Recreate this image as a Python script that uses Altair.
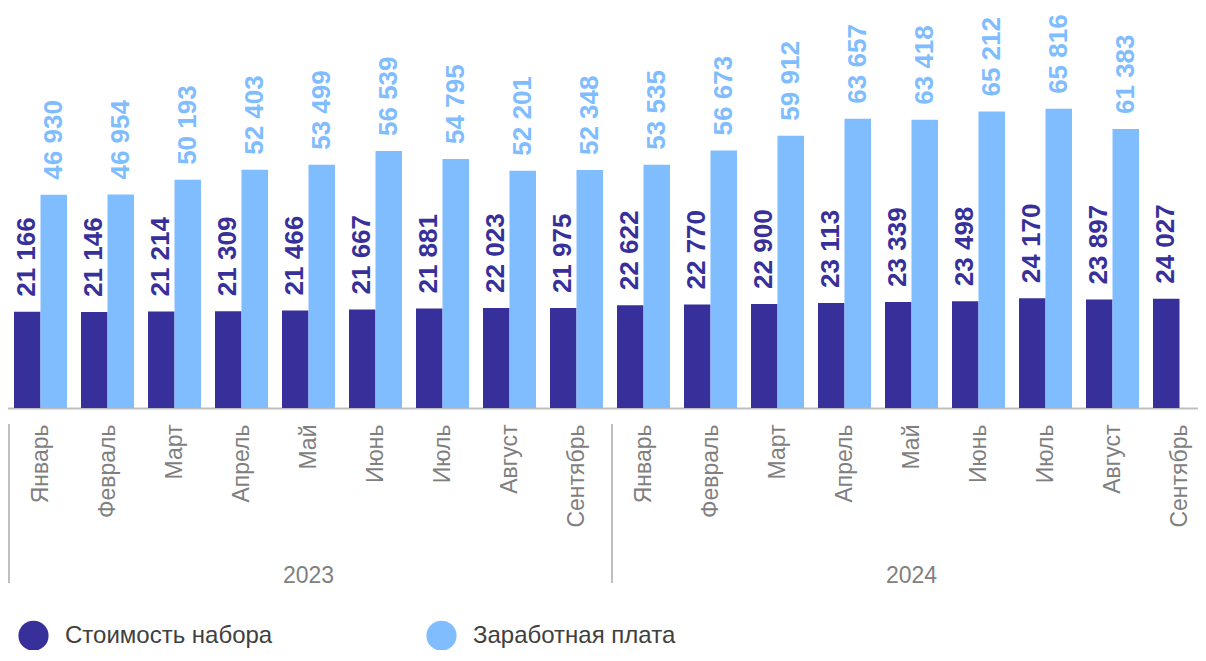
import altair as alt
import pandas as pd

months = ["Январь", "Февраль", "Март", "Апрель", "Май", "Июнь", "Июль", "Август", "Сентябрь"]
years = ["2023", "2024"]

cost_2023 = [21166, 21146, 21214, 21309, 21466, 21667, 21881, 22023, 21975]
cost_2024 = [22622, 22770, 22900, 23113, 23339, 23498, 24170, 23897, 24027]
salary_2023 = [46930, 46954, 50193, 52403, 53499, 56539, 54795, 52201, 52348]
salary_2024 = [53535, 56673, 59912, 63657, 63418, 65212, 65816, 61383, None]

series_names = ["Стоимость набора", "Заработная плата"]
colors = ["#38309a", "#80bdff"]

FONT = "Liberation Sans"
GREY = "#7f7f7f"

cats = [f"{m} {y}" for y in years for m in months]
cost = cost_2023 + cost_2024
salary = salary_2023 + salary_2024

rows = []
for c, v in zip(cats, cost):
    rows.append({"cat": c, "series": series_names[0], "value": v})
for c, v in zip(cats, salary):
    if v is not None:
        rows.append({"cat": c, "series": series_names[1], "value": v})
df = pd.DataFrame(rows)
df["label"] = df["value"].map(lambda v: f"{int(v):,}".replace(",", " "))

df_years = pd.DataFrame({"cat": [f"Май {y}" for y in years], "year": years})
df_sep = pd.DataFrame({"cat": [f"Январь {y}" for y in years]})

xscale = alt.Scale(domain=cats, range=[-1, 1205], paddingInner=0.209, paddingOuter=0.1045)
yscale = alt.Scale(domain=[0, 88000])
offscale = alt.Scale(domain=series_names)

xaxis = alt.Axis(
    title=None,
    labelAngle=270,
    labelAlign="right",
    labelBaseline="middle",
    labelExpr="split(datum.label, ' ')[0]",
    labelFontSize=23,
    labelFont=FONT,
    labelColor=GREY,
    labelPadding=16,
    ticks=False,
    tickSize=0,
    domainColor="#bfbfbf",
    domainWidth=2,
    grid=False,
    labelLimit=300,
)


def xenc(**kw):
    return alt.X("cat:N", sort=cats, scale=xscale, axis=xaxis, **kw)


bars = alt.Chart(df).mark_bar().encode(
    x=xenc(),
    xOffset=alt.XOffset("series:N", scale=offscale, sort=series_names),
    y=alt.Y("value:Q", scale=yscale, axis=None),
    color=alt.Color(
        "series:N",
        scale=alt.Scale(domain=series_names, range=colors),
        sort=series_names,
        legend=alt.Legend(
            orient="none",
            legendX=10,
            legendY=612,
            direction="horizontal",
            title=None,
            symbolType="circle",
            symbolSize=908,
            symbolStrokeWidth=0,
            labelFontSize=24,
            labelFont=FONT,
            labelColor="#404040",
            labelOffset=16,
            columnPadding=153,
            labelLimit=400,
            padding=0,
        ),
    ),
)


def value_labels(series, color):
    return (
        alt.Chart(df[df["series"] == series])
        .mark_text(
            angle=270,
            align="left",
            baseline="middle",
            dx=15,
            font=FONT,
            fontSize=26,
            fontWeight="bold",
            color=color,
        )
        .encode(
            x=xenc(),
            xOffset=alt.XOffset("series:N", scale=offscale, sort=series_names),
            y=alt.Y("value:Q", scale=yscale, axis=None),
            text="label:N",
        )
    )


year_text = alt.Chart(df_years).mark_text(
    font=FONT, fontSize=23, color=GREY, align="center", baseline="alphabetic"
).encode(x=xenc(), y=alt.value(575), text="year:N")

seps = alt.Chart(df_sep).mark_rule(color="#bfbfbf", strokeWidth=2, xOffset=-5).encode(
    x=xenc(bandPosition=0), y=alt.value(416), y2=alt.value(575)
)

chart = (
    alt.layer(bars, value_labels(series_names[0], colors[0]), value_labels(series_names[1], colors[1]), year_text, seps)
    .properties(
        width=1190,
        height=400,
        padding={"left": 0, "top": 0, "right": 0, "bottom": 242},
        autosize=alt.AutoSizeParams(type="none"),
    )
    .configure_view(stroke=None)
)

chart.save("out.html", embed_options={"renderer": "svg", "actions": False})
